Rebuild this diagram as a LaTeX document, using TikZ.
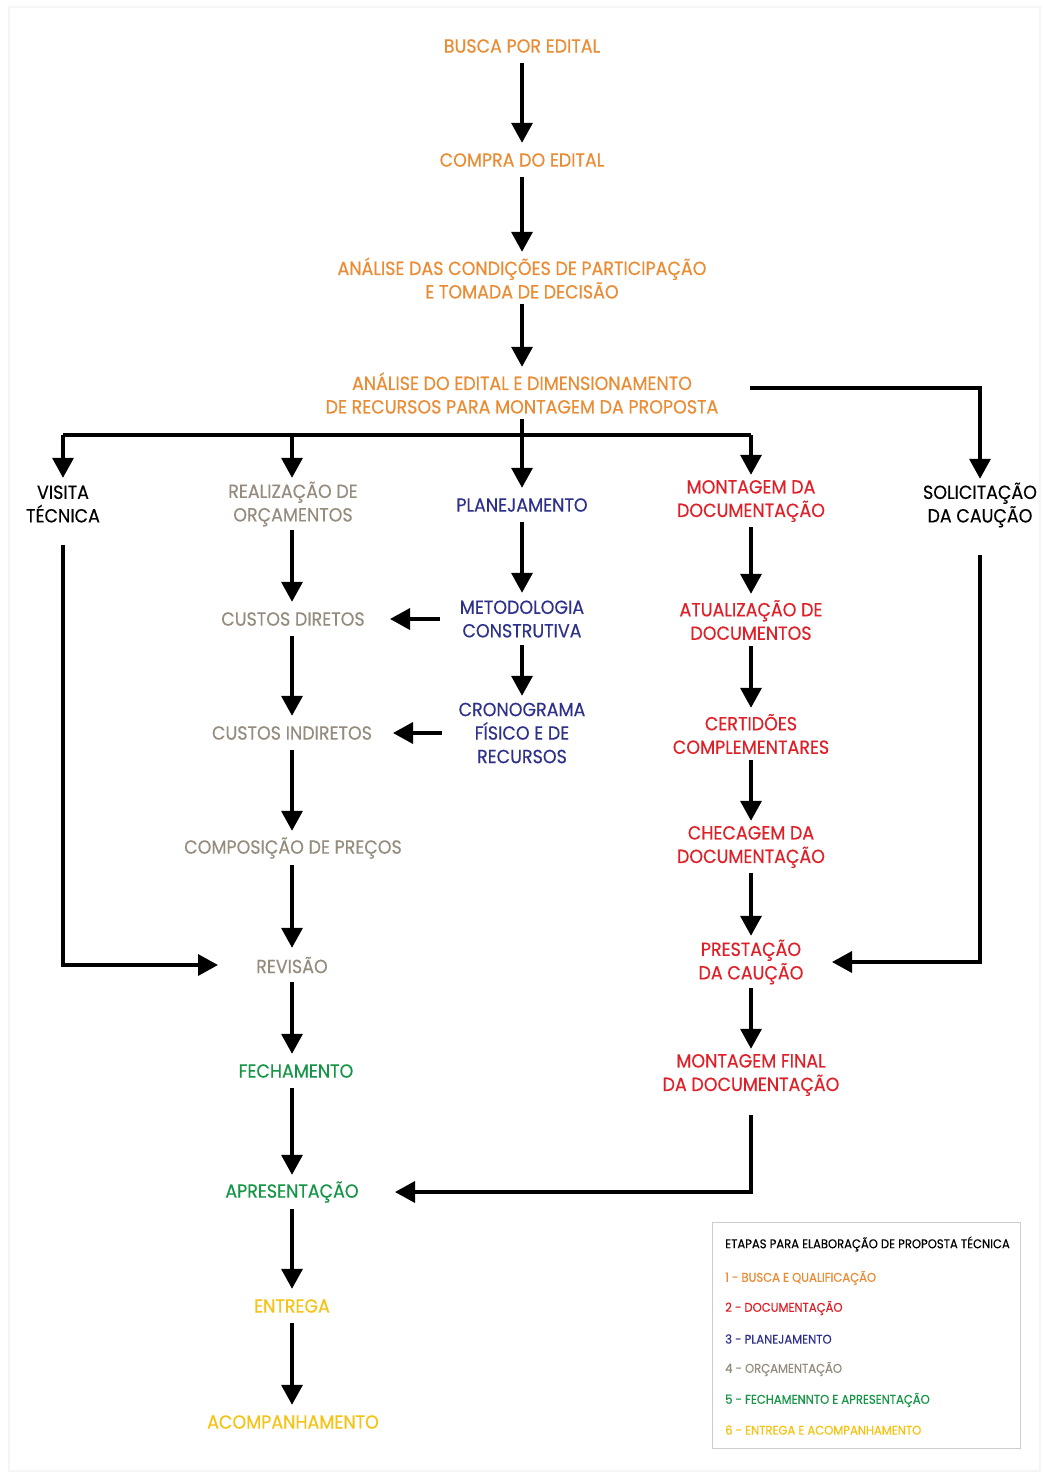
\documentclass[tikz,border=0pt]{standalone}
\usepackage{fontspec}
\setmainfont{Poppins}[FakeBold=0.35,FakeStretch=0.92]
\usetikzlibrary{arrows.meta}
\definecolor{corange}{RGB}{234,140,52}
\definecolor{cred}{RGB}{222,32,40}
\definecolor{cnavy}{RGB}{46,49,140}
\definecolor{ctaupe}{RGB}{150,140,125}
\definecolor{cgreen}{RGB}{20,150,70}
\definecolor{cyellow}{RGB}{245,195,20}
\tikzset{
  lab/.style={inner xsep=4pt, inner ysep=0pt, align=center,
    font=\fontsize{19}{23.5}\selectfont},
  one/.style={lab, minimum height=34pt},
  two/.style={lab, minimum height=52pt},
  three/.style={lab, minimum height=74pt},
  conn/.style={line width=3.5pt, black},
  arr/.style={conn, -{Triangle[width=21pt,length=20pt]}},
  legitem/.style={anchor=west, inner sep=0pt, font=\fontsize{12.6}{14}\selectfont}
}
\begin{document}
\begin{tikzpicture}[x=1pt,y=-1pt]
\useasboundingbox (0,0) rectangle (1043,1475);
\fill[white] (0,0) rectangle (1043,1475);
\draw[gray!8, line width=1.5pt] (9,7) rectangle (1040,1471);

% main column
\node[one, text=corange] (busca) at (522,46) {BUSCA POR EDITAL};
\node[one, text=corange] (compra) at (522,160) {COMPRA DO EDITAL};
\node[two, text=corange] (cond) at (522,278) {ANÁLISE DAS CONDIÇÕES DE PARTICIPAÇÃO\\E TOMADA DE DECISÃO};
\node[two, text=corange] (anal) at (522,393) {ANÁLISE DO EDITAL E DIMENSIONAMENTO\\DE RECURSOS PARA MONTAGEM DA PROPOSTA};

% branches
\node[two, text=black] (visita) at (63,504) {VISITA\\TÉCNICA};
\node[two, text=ctaupe] (orc) at (293,504) {REALIZAÇÃO DE\\ORÇAMENTOS};
\node[one, text=cnavy] (plan) at (522,505) {PLANEJAMENTO};
\node[two, text=cred] (mont) at (751,501) {MONTAGEM DA\\DOCUMENTAÇÃO};
\node[two, text=black] (solic) at (980,505) {SOLICITAÇÃO\\DA CAUÇÃO};

\node[one, text=ctaupe] (cd) at (293,619) {CUSTOS DIRETOS};
\node[two, text=cnavy] (meto) at (522,619) {METODOLOGIA\\CONSTRUTIVA};
\node[two, text=cred] (atual) at (751,620) {ATUALIZAÇÃO DE\\DOCUMENTOS};

\node[one, text=ctaupe] (ci) at (292,733) {CUSTOS INDIRETOS};
\node[three, text=cnavy] (crono) at (522,733) {CRONOGRAMA\\FÍSICO E DE\\RECURSOS};
\node[two, text=cred] (cert) at (751,734) {CERTIDÕES\\COMPLEMENTARES};

\node[one, text=ctaupe] (comp) at (293,848) {COMPOSIÇÃO DE PREÇOS};
\node[two, text=cred] (chec) at (751,847) {CHECAGEM DA\\DOCUMENTAÇÃO};

\node[one, text=ctaupe] (rev) at (292,965) {REVISÃO};
\node[two, text=cred] (prest) at (751,962) {PRESTAÇÃO\\DA CAUÇÃO};

\node[one, text=cgreen] (fech) at (296,1071) {FECHAMENTO};
\node[two, text=cred] (mfinal) at (751,1075) {MONTAGEM FINAL\\DA DOCUMENTAÇÃO};

\node[one, text=cgreen] (apres) at (292,1192) {APRESENTAÇÃO};
\node[one, text=cyellow] (entrega) at (292,1306) {ENTREGA};
\node[one, text=cyellow] (acomp) at (293,1422) {ACOMPANHAMENTO};

\coordinate (bus) at (522,435);
\coordinate (col) at (292,0);

% connectors
\draw[arr] (busca) -- (compra);
\draw[arr] (compra) -- (cond);
\draw[arr] (cond) -- (anal);
\draw[arr] (anal) -- (plan);
\draw[conn] (visita.north |- bus) -- (mont.north |- bus);
\draw[arr] (visita.north |- bus) -- (visita.north);
\draw[arr] (col |- bus) -- (col |- orc.north);
\draw[arr] (mont.north |- bus) -- (mont.north);
\draw[arr] ([shift={(228,-5)}]anal.center) -| (solic.north);

\draw[arr] (col |- orc.south) -- (col |- cd.north);
\draw[arr] (col |- cd.south) -- (col |- ci.north);
\draw[arr] (col |- ci.south) -- (col |- comp.north);
\draw[arr] (col |- comp.south) -- (col |- rev.north);
\draw[arr] (col |- rev.south) -- (col |- fech.north);
\draw[arr] (col |- fech.south) -- (col |- apres.north);
\draw[arr] (col |- apres.south) -- (col |- entrega.north);
\draw[arr] (col |- entrega.south) -- (col |- acomp.north);

\draw[arr] (plan) -- (meto);
\draw[arr] (meto) -- (crono);
\draw[arr] ([xshift=-82pt]meto.center) -- ([xshift=97pt]cd.center);
\draw[arr] ([xshift=-80pt]crono.center) -- ([xshift=101pt]ci.center);

\draw[arr] (mont) -- (atual);
\draw[arr] (atual) -- (cert);
\draw[arr] (cert) -- (chec);
\draw[arr] (chec) -- (prest);
\draw[arr] (prest) -- (mfinal);

\draw[arr] ([yshift=-15pt]visita.south) |- ([xshift=-74pt]rev.center);
\draw[arr] ([yshift=-24pt]solic.south) |- ([xshift=81pt]prest.center);
\draw[arr] ([yshift=-14pt]mfinal.south) |- ([xshift=103pt]apres.center);

% legend
\node[draw=gray!40, line width=1.2pt, minimum width=308pt, minimum height=226pt,
      anchor=north west, inner sep=0pt] (legend) at (712,1222) {};
\node[legitem, text=black] (lt) at ([shift={(13,22)}]legend.north west) {ETAPAS PARA ELABORAÇÃO DE PROPOSTA TÉCNICA};
\node[legitem, text=corange] (l1) at ([shift={(13,56)}]legend.north west) {1 - BUSCA E QUALIFICAÇÃO};
\node[legitem, text=cred] (l2) at ([shift={(13,86)}]legend.north west) {2 - DOCUMENTAÇÃO};
\node[legitem, text=cnavy] (l3) at ([shift={(13,117)}]legend.north west) {3 - PLANEJAMENTO};
\node[legitem, text=ctaupe] (l4) at ([shift={(13,147)}]legend.north west) {4 - ORÇAMENTAÇÃO};
\node[legitem, text=cgreen] (l5) at ([shift={(13,178)}]legend.north west) {5 - FECHAMENNTO E APRESENTAÇÃO};
\node[legitem, text=cyellow] (l6) at ([shift={(13,208)}]legend.north west) {6 - ENTREGA E ACOMPANHAMENTO};
\end{tikzpicture}
\end{document}
